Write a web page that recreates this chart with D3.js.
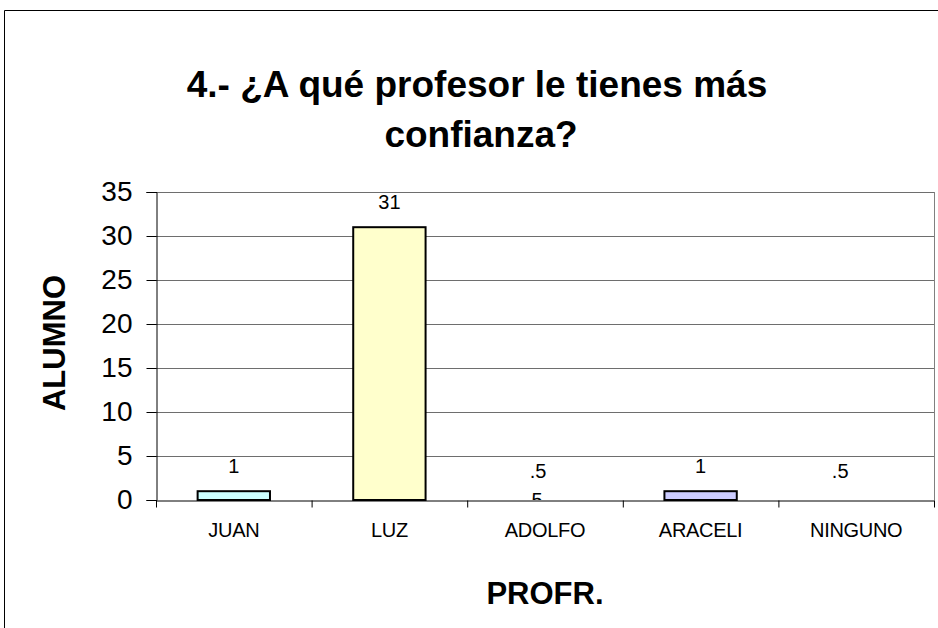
<!DOCTYPE html>
<html>
<head>
<meta charset="utf-8">
<script src="https://cdn.jsdelivr.net/npm/d3@7"></script>
<style>
  body { margin: 0; background: #fff; }
  text { font-family: "Liberation Sans", Arial, sans-serif; }
</style>
</head>
<body>
<svg id="chart" width="938" height="628"></svg>
<script>
// data
var profes = ["JUAN", "LUZ", "ADOLFO", "ARACELI", "NINGUNO"];
var alumnos = [1, 31, 0.5, 1, 0.5];
var etiquetas = ["1", "31", ".5\n5", "1", ".5"];
var colores = ["#ccffff", "#ffffcc", "none", "#ccccff", "none"];
var yTicks = [0, 5, 10, 15, 20, 25, 30, 35];

// small label nudges seen in the original
var labelShift = [0, 0, -7, 0, -16];

var W = 938, H = 628;
var plot = {left: 156, right: 934, top: 192, bottom: 500};

var svg = d3.select("#chart");

// outer frame
svg.append("path")
    .attr("d", "M4.5," + H + "V10.5H" + W)
    .attr("fill", "none")
    .attr("stroke", "#000")
    .attr("stroke-width", 1);

var x = d3.scaleBand().domain(profes).range([plot.left, plot.right]).paddingInner(0).paddingOuter(0);
var y = d3.scaleLinear().domain([0, 35]).range([plot.bottom, plot.top]);

// gridlines
svg.append("g")
    .selectAll("line")
    .data(yTicks.slice(1))
    .join("line")
    .attr("x1", plot.left).attr("x2", plot.right)
    .attr("y1", function(d){ return Math.round(y(d)) + 0.5; })
    .attr("y2", function(d){ return Math.round(y(d)) + 0.5; })
    .attr("stroke", "#6e6e6e")
    .attr("stroke-width", 1);

// right border of plot
svg.append("line")
    .attr("x1", plot.right + 0.5).attr("x2", plot.right + 0.5)
    .attr("y1", plot.top).attr("y2", plot.bottom)
    .attr("stroke", "#808080");

// bars
var bw = x.bandwidth() * 0.465;
svg.append("g")
    .selectAll("rect")
    .data(profes)
    .join("rect")
    .attr("x", function(d){ return x(d) + (x.bandwidth() - bw) / 2; })
    .attr("y", function(d, i){ return y(alumnos[i]); })
    .attr("width", bw)
    .attr("height", function(d, i){ return y(0) - y(alumnos[i]); })
    .attr("fill", function(d, i){ return colores[i]; })
    .attr("stroke", function(d, i){ return colores[i] == "none" ? "none" : "#000"; })
    .attr("stroke-width", 2);

// y axis
var yAxis = d3.axisLeft(y).tickValues(yTicks).tickSize(10).tickPadding(14);
var gy = svg.append("g")
    .attr("transform", "translate(" + (plot.left + 0.5) + ",0)")
    .call(yAxis);
gy.select(".domain").attr("stroke", "#000");
gy.selectAll(".tick line").attr("stroke", "#000");
gy.selectAll(".tick text")
    .attr("font-size", 28)
    .attr("fill", "#000")
    .style("font-family", "'Liberation Sans', Arial, sans-serif");

// x axis
var xAxis = d3.axisBottom(x).tickSize(0).tickPadding(22);
var gx = svg.append("g")
    .attr("transform", "translate(0," + (plot.bottom + 0.5) + ")")
    .call(xAxis);
gx.select(".domain").attr("stroke", "#000");
gx.selectAll(".tick text")
    .attr("font-size", 20)
    .attr("fill", "#000")
    .attr("letter-spacing", "-0.3px")
    .style("font-family", "'Liberation Sans', Arial, sans-serif");
// category separators
gx.append("g")
    .selectAll("line")
    .data(profes.concat(["_end"]))
    .join("line")
    .attr("x1", function(d, i){ return (i < profes.length ? x(d) : plot.right) + 0.5; })
    .attr("x2", function(d, i){ return (i < profes.length ? x(d) : plot.right) + 0.5; })
    .attr("y1", 0).attr("y2", 7)
    .attr("stroke", "#000");

// data labels, clipped at the baseline
svg.append("clipPath").attr("id", "clipPlot")
    .append("rect")
    .attr("x", 0).attr("y", 0)
    .attr("width", W).attr("height", plot.bottom);

var lab = svg.append("g")
    .attr("clip-path", "url(#clipPlot)")
    .selectAll("text")
    .data(profes)
    .join("text")
    .attr("y", function(d, i){ return y(alumnos[i]) - 18; })
    .attr("text-anchor", "middle")
    .attr("font-size", 20)
    .attr("fill", "#000");
lab.each(function(d, i){
    var lines = etiquetas[i].split("\n");
    var t = d3.select(this);
    var cx = x(d) + x.bandwidth() / 2 + labelShift[i];
    lines.forEach(function(s, k){
        t.append("tspan")
            .attr("x", cx - (k > 0 ? 1 : 0))
            .attr("dy", k == 0 ? 0 : 29)
            .text(s);
    });
});

// title
var title = svg.append("text")
    .attr("text-anchor", "middle")
    .attr("font-size", 37)
    .attr("font-weight", "bold")
    .attr("fill", "#000");
title.append("tspan").attr("x", 477).attr("y", 97).text("4.- ¿A qué profesor le tienes más");
title.append("tspan").attr("x", 481).attr("y", 147).text("confianza?");

// axis titles
svg.append("text")
    .attr("transform", "translate(65,343) rotate(-90)")
    .attr("text-anchor", "middle")
    .attr("font-size", 31)
    .attr("font-weight", "bold")
    .text("ALUMNO");

svg.append("text")
    .attr("x", 545)
    .attr("y", 604)
    .attr("text-anchor", "middle")
    .attr("font-size", 31)
    .attr("font-weight", "bold")
    .text("PROFR.");
</script>
</body>
</html>
